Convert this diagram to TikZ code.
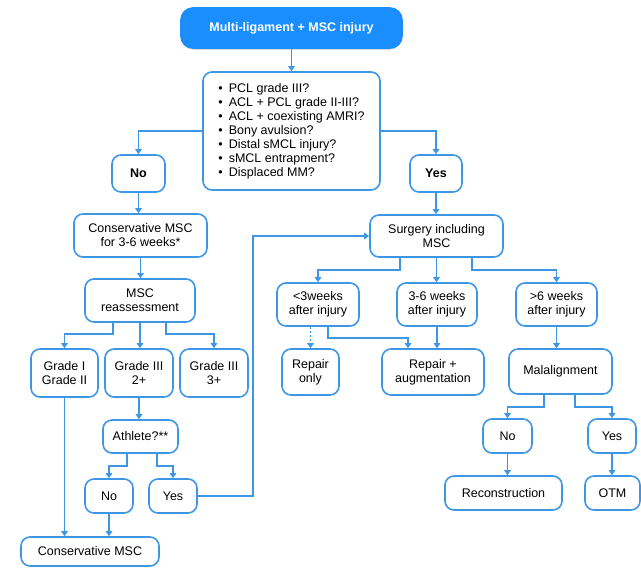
\documentclass[tikz,border=0pt]{standalone}
\usepackage{fontspec}
\setmainfont{Liberation Sans}
\usetikzlibrary{arrows.meta,shadows}
\definecolor{bl}{HTML}{3D97E6}
\definecolor{topfill}{HTML}{1B8EFD}
\begin{document}
\begin{tikzpicture}[x=1pt,y=-1pt,
  box/.style={draw=bl, line width=1.6pt, rounded corners=9pt, fill=white, align=center, inner sep=0pt, font=\fontsize{12.5}{14}\selectfont},
  arr/.style={draw=bl, line width=1.5pt, -{Triangle[length=5pt,width=6.5pt]}},
  dsh/.style={arr, dashed, dash pattern=on 2pt off 2pt}]
\useasboundingbox (0,0) rectangle (641,568);
% nodes
\node[box, fill=topfill, draw=topfill, rounded corners=12pt, text=white, font=\fontsize{12.5}{14}\selectfont\bfseries, minimum width=221pt, minimum height=40pt, drop shadow={shadow xshift=0pt, shadow yshift=-1.5pt, opacity=0.35, fill=black!60}] (top) at (291.5,28) {Multi-ligament + MSC injury};
\node[box, minimum width=177pt, minimum height=118pt, align=left] (q) at (291.5,131) {%
\textbullet\hspace{6pt}PCL grade III?\\
\textbullet\hspace{6pt}ACL + PCL grade II-III?\\
\textbullet\hspace{6pt}ACL + coexisting AMRI?\\
\textbullet\hspace{6pt}Bony avulsion?\\
\textbullet\hspace{6pt}Distal sMCL injury?\\
\textbullet\hspace{6pt}sMCL entrapment?\\
\textbullet\hspace{6pt}Displaced MM?};
\node[box, font=\fontsize{12.5}{14}\selectfont\bfseries, minimum width=53pt, minimum height=37pt] (no1) at (138.5,173.5) {No};
\node[box, font=\fontsize{12.5}{14}\selectfont\bfseries, minimum width=52pt, minimum height=37pt] (yes1) at (436,173.5) {Yes};
\node[box, minimum width=133pt, minimum height=43pt] (cons) at (140.5,235.5) {Conservative MSC\\for 3-6 weeks*};
\node[box, minimum width=110pt, minimum height=43pt] (reas) at (140,300.5) {MSC\\reassessment};
\node[box, minimum width=67pt, minimum height=48pt] (g1) at (64.5,373) {Grade I\\Grade II};
\node[box, minimum width=68pt, minimum height=48pt] (g2) at (139,373) {Grade III\\2+};
\node[box, minimum width=68pt, minimum height=48pt] (g3) at (214,373) {Grade III\\3+};
\node[box, minimum width=75pt, minimum height=33pt] (ath) at (140.5,436.5) {Athlete?**};
\node[box, minimum width=48pt, minimum height=34pt] (no2) at (109,496) {No};
\node[box, minimum width=48pt, minimum height=34pt] (yes2) at (173,496) {Yes};
\node[box, minimum width=138pt, minimum height=29pt] (consf) at (90,551.5) {Conservative MSC};
\node[box, minimum width=133pt, minimum height=42pt] (surg) at (436.5,236) {Surgery including\\MSC};
\node[box, minimum width=82pt, minimum height=43pt] (w1) at (318,304.5) {<3weeks\\after injury};
\node[box, minimum width=80pt, minimum height=43pt] (w2) at (437,304.5) {3-6 weeks\\after injury};
\node[box, minimum width=81pt, minimum height=43pt] (w3) at (556.5,304.5) {>6 weeks\\after injury};
\node[box, minimum width=57pt, minimum height=46pt] (rep) at (310.5,372) {Repair\\only};
\node[box, minimum width=102pt, minimum height=46pt] (aug) at (433,372) {Repair +\\augmentation};
\node[box, minimum width=103pt, minimum height=45pt] (mal) at (560.5,371.5) {Malalignment};
\node[box, minimum width=49pt, minimum height=34pt] (no3) at (507.5,436) {No};
\node[box, minimum width=48pt, minimum height=34pt] (yes3) at (612,436) {Yes};
\node[box, minimum width=117pt, minimum height=34pt] (recon) at (503.5,493) {Reconstruction};
\node[box, minimum width=55pt, minimum height=34pt] (otm) at (612.5,493) {OTM};
\coordinate (c1) at (253,496);
% connectors
\draw[arr] (top.south) -- (q.north);
\draw[arr] (q.west) -| (no1.north);
\draw[arr] (q.east) -| (yes1.north);
\draw[arr] (no1.south) -- (no1.south |- cons.north);
\draw[arr] (cons.south) -- (cons.south |- reas.north);
\draw[arr] ([xshift=-27pt]reas.south) -- ++(0,11) -| (g1.north);
\draw[arr] (reas.south) -- (reas.south |- g2.north);
\draw[arr] ([xshift=26pt]reas.south) -- ++(0,11) -| (g3.north);
\draw[arr] (g2.south) -- (g2.south |- ath.north);
\draw[arr] ([xshift=-13.5pt]ath.south) -- ++(0,12) -| (no2.north);
\draw[arr] ([xshift=16.5pt]ath.south) -- ++(0,12) -| (yes2.north);
\draw[arr] (yes2.east) -- (c1) |- (surg.west);
\draw[arr] (g1.south) -- (g1.south |- consf.north);
\draw[arr] (no2.south) -- (no2.south |- consf.north);
\draw[arr] (yes1.south) -- (yes1.south |- surg.north);
\draw[arr] ([xshift=-36.5pt]surg.south) -- ++(0,12) -| (w1.north);
\draw[arr] (surg.south) -- (surg.south |- w2.north);
\draw[arr] ([xshift=35.5pt]surg.south) -- ++(0,12) -| (w3.north);
\draw[dsh] (rep.north |- w1.south) -- (rep.north);
\draw[arr] ([xshift=10pt]w1.south) -- ++(0,11) -| ([xshift=-25pt]aug.north);
\draw[arr] (w2.south) -- (w2.south |- aug.north);
\draw[arr] (w3.south) -- (w3.south |- mal.north);
\draw[arr] ([xshift=-16.5pt]mal.south) -- ++(0,12) -| (no3.north);
\draw[arr] ([xshift=14.5pt]mal.south) -- ++(0,12) -| (yes3.north);
\draw[arr] (no3.south) -- (no3.south |- recon.north);
\draw[arr] (yes3.south) -- (yes3.south |- otm.north);
\end{tikzpicture}
\end{document}
